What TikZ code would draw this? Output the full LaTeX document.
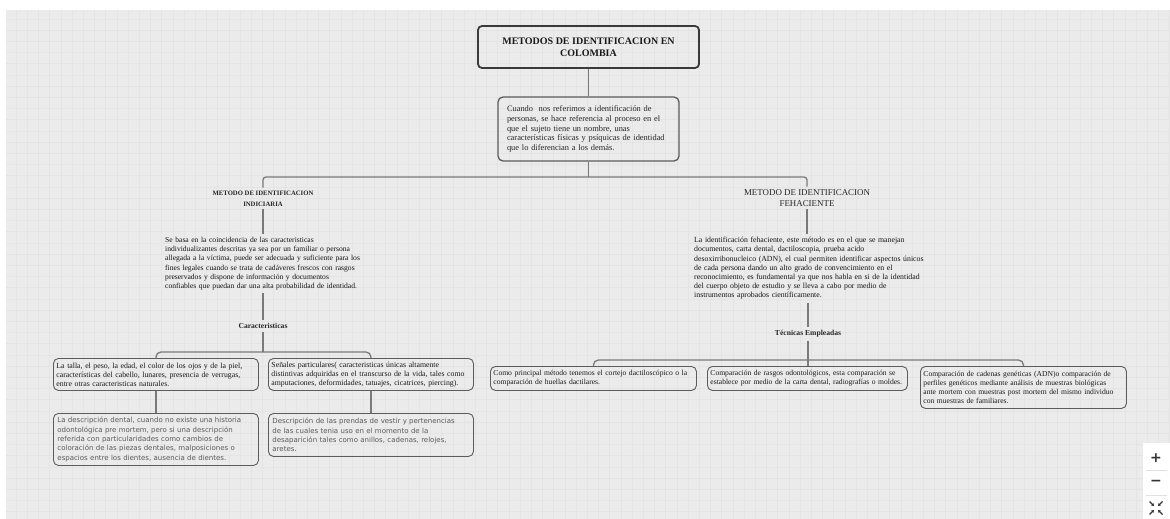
\documentclass[tikz,border=0pt]{standalone}
\usepackage{fontspec}
\setmainfont{Liberation Serif}
\newfontfamily\vsans{DejaVu Sans}
\usetikzlibrary{arrows.meta}
\definecolor{bgc}{HTML}{EBEBEB}
\definecolor{gridc}{HTML}{E4E4E4}
\definecolor{txtc}{HTML}{262626}
\definecolor{boxc}{HTML}{5C5C5C}
\definecolor{connc}{HTML}{7A7A7A}
\definecolor{sanstxt}{HTML}{595959}
\definecolor{titlec}{HTML}{3A3A3A}
\tikzset{
  conn/.style={draw=connc, line width=1.3pt},
  titlebox/.style={draw=titlec, line width=1.8pt, rounded corners=4pt, align=center,
    font=\bfseries\fontsize{10}{11.5}\selectfont, text=black!90},
  introbox/.style={draw=boxc, line width=1.3pt, rounded corners=5pt, align=left,
    text width=163pt, inner xsep=9pt, font=\fontsize{8.4}{9.8}\selectfont, text=txtc},
  headl/.style={align=center, font=\bfseries\fontsize{6.7}{11}\selectfont, text=txtc, inner sep=3pt},
  headr/.style={align=center, font=\fontsize{8.9}{10.5}\selectfont, text=txtc, inner sep=3pt},
  para/.style={align=left, font=\fontsize{7.6}{9.2}\selectfont, text=black!92, inner sep=3pt, anchor=north west},
  sub/.style={font=\bfseries\fontsize{7.6}{9}\selectfont, text=txtc, inner sep=3pt},
  smallbox/.style={draw=boxc, line width=0.9pt, rounded corners=5pt, align=left, anchor=north west,
    inner xsep=3pt, inner ysep=2pt, font=\fontsize{7.8}{9}\selectfont, text=black!90},
  sansbox/.style={smallbox, font=\vsans\fontsize{7}{9.3}\selectfont, text=sanstxt, inner xsep=4pt},
}
\begin{document}
\begin{tikzpicture}[x=1pt,y=-1pt]
\useasboundingbox (0,0) rectangle (1170,519);
\fill[white] (0,0) rectangle (1170,519);
\fill[bgc] (6,10) rectangle (1170,519);
\foreach \x in {16.2,27.4,...,1170} \draw[gridc, line width=0.7pt] (\x,10) -- (\x,519);
\foreach \y in {19,30.2,...,519} \draw[gridc, line width=0.7pt] (6,\y) -- (1170,\y);

% title and intro
\node[titlebox, minimum width=221pt, minimum height=42pt] (title) at (588.5,47) {METODOS DE IDENTIFICACION EN\\COLOMBIA};
\node[introbox, minimum height=64pt] (intro) at (588.5,129) {Cuando\ \ nos referimos a identificación de\\personas, se hace referencia al proceso en el\\que el sujeto tiene un nombre, unas\\características físicas y psíquicas de identidad\\que lo diferencian a los demás.};
\draw[conn] (title.south) -- (intro.north);

% branch headings
\node[headl] (indh) at (263,198.5) {METODO DE IDENTIFICACION\\INDICIARIA};
\node[headr] (fehh) at (807,198) {METODO DE IDENTIFICACION\\FEHACIENTE};
\coordinate (tbus) at (588.5,177);
\draw[conn] (intro.south) -- (tbus);
\draw[conn, rounded corners=3pt] (indh.north) |- (tbus) -| (fehh.north);

% left paragraph
\node[para, text width=205pt] (indp) at (162,234) {Se basa en la coincidencia de las caracteristicas\\individualizantes descritas ya sea por un familiar o persona\\allegada a la víctima, puede ser adecuada y suficiente para los\\fines legales cuando se trata de cadáveres frescos con rasgos\\preservados y dispone de información y documentos\\confiables que puedan dar una alta probabilidad de identidad.};
\draw[conn] (indh.south) -- (indh.south |- indp.north);
\node[sub] (car) at (263,326) {Caracteristicas};
\draw[conn] (car.north |- indp.south) -- (car.north);

% right paragraph
\node[para, text width=240pt, font=\fontsize{7.8}{9.2}\selectfont] (fehp) at (691,234) {La identificación fehaciente, este método es en el que se manejan\\documentos, carta dental, dactiloscopia, prueba acido\\desoxirribonucleico (ADN), el cual permiten identificar aspectos únicos\\de cada persona dando un alto grado de convencimiento en el\\reconocimiento, es fundamental ya que nos habla en si de la identidad\\del cuerpo objeto de estudio y se lleva a cabo por medio de\\instrumentos aprobados científicamente.};
\draw[conn] (fehh.south) -- (fehh.south |- fehp.north);
\node[sub] (tec) at (808,334) {Técnicas Empleadas};
\draw[conn] (tec.north |- fehp.south) -- (tec.north);

% left boxes
\node[smallbox, text width=199pt, minimum height=32pt] (L1) at (53,358) {La talla, el peso, la edad, el color de los ojos y de la piel,\\características del cabello, lunares, presencia de verrugas,\\entre otras caracteristicas naturales.};
\node[smallbox, text width=199pt, minimum height=32pt] (L2) at (268,358) {Señales particulares( caracteristicas únicas altamente\\distintivas adquiridas en el transcurso de la vida, tales como\\amputaciones, deformidades, tatuajes, cicatrices, piercing).};
\node[sansbox, text width=197pt, minimum height=52pt] (L3) at (53,413) {La descripción dental, cuando no existe una historia\\odontológica pre mortem, pero si una descripción\\referida con particularidades como cambios de\\coloración de las piezas dentales, malposiciones o\\espacios entre los dientes, ausencia de dientes.};
\node[sansbox, text width=197pt, minimum height=43pt] (L4) at (268,413) {Descripción de las prendas de vestir y pertenencias\\de las cuales tenia uso en el momento de la\\desaparición tales como anillos, cadenas, relojes,\\aretes.};
\coordinate (lbus) at (263,352);
\draw[conn] (car.south) -- (lbus);
\draw[conn, rounded corners=5pt] (L1.north) |- (lbus) -| (L2.north);
\draw[conn] (L1.south) -- (L3.north);
\draw[conn] (L2.south) -- (L4.north);

% right boxes
\node[smallbox, text width=200pt, minimum height=24pt, font=\fontsize{7.6}{9}\selectfont] (R1) at (490,366) {Como principal método tenemos el cortejo dactiloscópico o la\\comparación de huellas dactilares.};
\node[smallbox, text width=194pt, minimum height=24pt, font=\fontsize{7.6}{9}\selectfont] (R2) at (707,366) {Comparación de rasgos odontológicos, esta comparación se\\establece por medio de la carta dental, radiografías o moldes.};
\node[smallbox, text width=200pt, minimum height=42pt, font=\fontsize{7.6}{9}\selectfont] (R3) at (920,366) {Comparación de cadenas genéticas (ADN)o comparación de\\perfiles genéticos mediante análisis de muestras biológicas\\ante mortem con muestras post mortem del mismo individuo\\con muestras de familiares.};
\coordinate (rbus) at (808,360);
\draw[conn] (tec.south) -- (tec.south |- R2.north);
\draw[conn, rounded corners=5pt] (R1.north) |- (rbus) -| (R3.north);

% zoom controls
\fill[white] (1143,443) rectangle (1170,519);
\draw[black!12, line width=0.8pt] (1146,470) -- (1167,470);
\draw[black!12, line width=0.8pt] (1146,495) -- (1167,495);
\node[font=\vsans\bfseries\fontsize{14}{14}\selectfont, text=black!80] (zin) at (1156,458) {+};
\node[font=\vsans\bfseries\fontsize{14}{14}\selectfont, text=black!80] (zout) at (1156,482.5) {−};
\begin{scope}[draw=black!80, line width=1.3pt, -{Stealth[length=2.8pt,width=3.4pt]}]
\draw (1149.5,501.5) -- (1154,506);
\draw (1162.5,501.5) -- (1158,506);
\draw (1149.5,514.5) -- (1154,510);
\draw (1162.5,514.5) -- (1158,510);
\end{scope}
\end{tikzpicture}
\end{document}
